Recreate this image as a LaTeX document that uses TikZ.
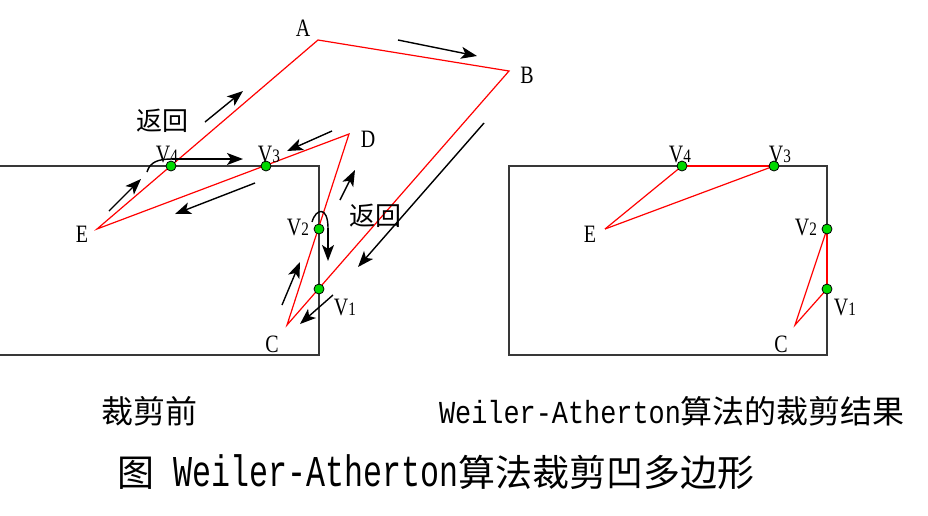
\documentclass[tikz,border=0pt]{standalone}
\usepackage{fontspec}
\setmainfont{Liberation Serif}
\newfontfamily\cjk{Noto Sans CJK SC}
\newfontfamily\mono[FakeStretch=0.84]{Liberation Mono}
\newfontfamily\monotitle[FakeStretch=0.72]{Liberation Mono}
\newfontfamily\labfont[FakeStretch=0.8]{Liberation Serif}
\usetikzlibrary{arrows.meta}
\tikzset{
  box/.style={draw=black!78, line width=1.8pt},
  poly/.style={draw=red, line width=1.2pt, line join=miter},
  edge/.style={draw=red, line width=2.4pt},
  mv/.style={-{Stealth[length=16pt,width=12pt,inset=4pt]}, line width=1.4pt, black},
  hook/.style={line width=1.4pt, black},
  pt/.style={circle, draw=black, fill=green!85!black, line width=0.8pt, inner sep=0pt, minimum size=10pt},
  lab/.style={font=\labfont\fontsize{25}{25}\selectfont, inner sep=0pt},
  ret/.style={font=\cjk\fontsize{26}{26}\selectfont, inner sep=0pt},
  captext/.style={inner sep=0pt},
}
\newcommand{\vlab}[1]{V{\fontsize{19}{19}\selectfont #1}}
\begin{document}
\begin{tikzpicture}[x=1pt,y=-1pt]
\useasboundingbox (0,0) rectangle (928,515);
% ---------- left: before clipping ----------
\draw[box] (0,166) -- (319,166) -- (319,355) -- (0,355);
\coordinate (A) at (318,40);
\coordinate (B) at (509,71);
\coordinate (C) at (287,325);
\coordinate (D) at (349,134);
\coordinate (E) at (97,229);
\draw[poly] (A) -- (B) -- (C) -- (D) -- (E) -- cycle;
\node[pt] (V4) at (171,166) {};
\node[pt] (V3) at (266,166) {};
\node[pt] (V2) at (319,229) {};
\node[pt] (V1) at (319,289) {};
\node[lab] (lA) at (303,28) {A};
\node[lab] (lB) at (527,75) {B};
\node[lab] (lC) at (272,344) {C};
\node[lab] (lD) at (368,139) {D};
\node[lab] (lE) at (82,234) {E};
\node[lab] (l4) at (167,154) {\vlab{4}};
\node[lab] (l3) at (269,154) {\vlab{3}};
\node[lab] (l2) at (298,227) {\vlab{2}};
\node[lab] (l1) at (345,307) {\vlab{1}};
\node[ret] (r1) at (162,121) {返回};
\node[ret] (r2) at (375,216) {返回};
% arrows
\coordinate (a1s) at (398,40);  \coordinate (a1e) at (477,56);
\coordinate (a2s) at (205,122); \coordinate (a2e) at (243,91);
\coordinate (a3s) at (109,211); \coordinate (a3e) at (141,179);
\coordinate (a4s) at (332,131); \coordinate (a4e) at (287,151);
\coordinate (a5s) at (255,183); \coordinate (a5e) at (175,214);
\coordinate (a6s) at (340,200); \coordinate (a6e) at (355,170);
\coordinate (a7s) at (282,305); \coordinate (a7e) at (300,262);
\coordinate (a8s) at (333,295); \coordinate (a8e) at (300,324);
\coordinate (a9s) at (484,123); \coordinate (a9e) at (358,267);
\draw[mv] (a1s) -- (a1e);
\draw[mv] (a2s) -- (a2e);
\draw[mv] (a3s) -- (a3e);
\draw[mv] (a4s) -- (a4e);
\draw[mv] (a5s) -- (a5e);
\draw[mv] (a6s) -- (a6e);
\draw[mv] (a7s) -- (a7e);
\draw[mv] (a8s) -- (a8e);
\draw[mv] (a9s) -- (a9e);
% hooks at V4 and V2
\coordinate (h4s) at (147,172); \coordinate (h4m) at (172,159); \coordinate (h4e) at (243,159);
\draw[hook] (h4s) .. controls (150,162) and (158,159) .. (h4m);
\draw[mv] (h4m) -- (h4e);
\coordinate (h2s) at (312,222); \coordinate (h2m) at (328,228); \coordinate (h2e) at (328,261);
\draw[hook] (h2s) .. controls (316,208) and (328,206) .. (h2m);
\draw[mv] (h2m) -- (h2e);
% ---------- right: after clipping ----------
\draw[box] (509,166) rectangle (827,355);
\coordinate (Er) at (605,229);
\coordinate (Cr) at (795,325);
\coordinate (W4) at (682,166);
\coordinate (W3) at (774,166);
\coordinate (W2) at (827,229);
\coordinate (W1) at (827,289);
\draw[poly] (Er) -- (W4);
\draw[poly] (W3) -- (Er);
\draw[edge] (W4) -- (W3);
\draw[poly] (W2) -- (Cr) -- (W1);
\draw[edge] (W1) -- (W2);
\node[pt] (U4) at (W4) {};
\node[pt] (U3) at (W3) {};
\node[pt] (U2) at (W2) {};
\node[pt] (U1) at (W1) {};
\node[lab] (mE) at (590,234) {E};
\node[lab] (mC) at (781,344) {C};
\node[lab] (m4) at (680,154) {\vlab{4}};
\node[lab] (m3) at (780,154) {\vlab{3}};
\node[lab] (m2) at (806,227) {\vlab{2}};
\node[lab] (m1) at (845,307) {\vlab{1}};
% ---------- captions ----------
\node[captext] (c1) at (149,411) {\cjk\fontsize{32}{32}\selectfont 裁剪前};
\node[captext] (c2) at (672,411) {{\mono\fontsize{32}{32}\selectfont Weiler-Atherton}{\cjk\fontsize{32}{32}\selectfont 算法的裁剪结果}};
\node[captext] (c3) at (436,472) {{\cjk\fontsize{37}{37}\selectfont 图}{\monotitle\fontsize{44}{44}\selectfont\ Weiler-Atherton}{\cjk\fontsize{37}{37}\selectfont 算法裁剪凹多边形}};
\end{tikzpicture}
\end{document}
